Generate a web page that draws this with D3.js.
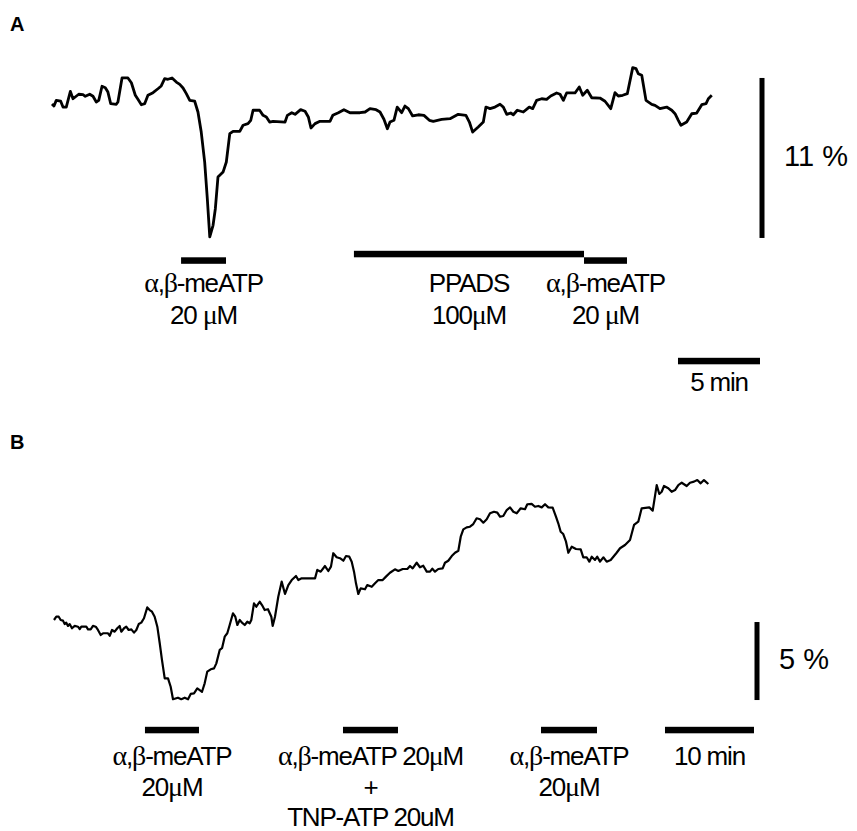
<!DOCTYPE html>
<html>
<head>
<meta charset="utf-8">
<script src="https://cdn.jsdelivr.net/npm/d3@7"></script>
<style>
  body { margin: 0; background: #fff; }
  svg text { font-family: "Liberation Sans", Arial, sans-serif; fill: #000; }
  .greek { font-family: "Liberation Serif", "Times New Roman", serif; }
</style>
</head>
<body>
<div id="chart"></div>
<script>
// Panel A: time (min) and signal change (%)
var timeA = [0,0.12,0.26,0.53,0.67,0.87,1.12,1.28,1.63,1.89,2.03,2.30,2.50,2.70,2.85,3.05,3.25,3.41,3.58,3.92,
  4.02,4.27,4.63,4.84,5.08,5.24,5.45,5.65,5.85,6.16,6.46,6.66,6.87,7.07,7.32,7.58,7.79,7.99,8.19,8.40,
  8.70,8.90,9.10,9.31,9.47,9.62,9.82,9.96,10.12,10.43,10.63,10.84,11.04,11.45,11.65,11.95,12.12,12.26,12.66,12.87,
  13.07,13.27,13.48,14.21,14.35,14.62,14.82,15.16,15.43,15.63,15.79,16.04,16.34,16.95,17.12,17.46,17.80,18.17,18.78,19.09,
  19.39,19.76,20.00,20.24,20.45,20.61,20.85,21.05,21.32,21.52,21.73,21.99,22.34,22.68,23.01,23.25,23.76,24.27,24.77,25.24,
  25.45,25.65,25.99,26.30,26.46,26.71,27.01,27.32,27.52,27.73,27.97,28.13,28.37,28.74,29.10,29.31,29.55,29.86,30.16,30.41,
  30.77,30.98,31.18,31.38,31.89,32.15,32.36,32.64,32.91,33.41,33.72,34.07,34.33,34.53,34.80,35.08,35.41,35.61,35.75,35.96,
  36.22,36.57,36.77,37.07,37.48,37.79,37.99,38.19,38.35,38.70,39.01,39.31,39.62,39.88,40.02,40.23];
var valueA = [0,-0.14,0.25,0.19,-0.21,-0.21,0.87,0.36,0.67,0.64,0.53,0.67,0.53,0.14,0.25,1.22,1.12,0.82,0.02,-0.02,
  0.14,1.79,1.79,1.46,0.60,0.32,-0.05,0.02,0.60,0.78,1.05,1.24,1.74,1.70,1.79,1.51,1.35,1.10,0.71,0.25,
  0.19,-0.55,-1.93,-3.99,-6.51,-9.14,-8.34,-7.20,-5.02,-4.68,-3.99,-2.04,-1.88,-1.88,-1.46,-1.35,-1.12,-0.43,-0.43,-0.78,
  -0.89,-1.24,-1.19,-1.24,-0.78,-0.60,-0.71,-0.39,-0.50,-0.89,-1.65,-1.35,-1.19,-1.19,-0.78,-0.60,-0.39,-0.60,-0.60,-0.55,
  -0.32,-0.39,-0.55,-1.05,-1.70,-1.24,-1.12,-0.21,-0.60,-0.14,-0.32,-0.82,-0.74,-0.78,-1.12,-1.19,-1.05,-1.01,-0.71,-0.78,
  -1.24,-1.93,-1.58,-1.24,-0.21,-0.32,-0.21,-0.02,-0.21,-0.71,-0.62,-0.74,-0.43,-0.55,-0.21,-0.32,0.25,0.36,0.32,0.55,
  0.76,0.67,0.25,0.76,0.76,1.17,0.60,0.94,0.43,0.41,0.19,-0.32,0.78,0.55,0.60,0.71,2.50,2.43,2.08,1.97,
  0.25,-0.02,-0.09,-0.32,-0.21,-0.43,-0.67,-1.12,-1.46,-1.24,-0.67,-0.62,-0.05,0.02,0.36,0.60];

// Panel B: time (min) and signal change (%)
var timeB = [0,0.26,0.53,0.75,1.01,1.20,1.38,1.57,1.76,2.02,2.33,2.70,2.89,3.07,3.63,3.82,4.12,4.38,4.69,4.94,
  5.25,5.51,6.07,6.26,6.52,6.82,7.11,7.38,7.56,7.87,8.12,8.39,8.69,8.99,9.25,9.52,9.81,10.11,10.48,10.75,
  11.01,11.31,11.61,11.88,12.13,12.44,12.81,13.11,13.37,13.93,14.30,14.69,15.06,15.36,15.73,16.10,16.37,16.63,16.93,17.22,
  17.61,17.98,18.24,18.62,18.88,19.18,19.47,19.74,20.11,20.37,20.60,20.87,21.12,21.43,21.72,21.99,22.17,22.47,22.73,23.11,
  23.37,23.67,24.04,24.42,24.57,24.83,25.20,25.58,25.96,26.33,26.71,27.19,27.45,27.83,28.20,29.33,29.58,29.97,30.45,30.82,
  31.12,31.38,31.76,32.13,32.51,32.81,33.18,33.45,33.71,33.93,34.19,34.46,34.94,35.20,35.70,36.07,36.44,36.93,37.30,37.75,
  38.31,38.69,39.18,39.70,40.00,40.30,40.75,41.12,41.49,41.88,42.25,42.51,42.81,43.18,43.67,43.93,44.30,44.69,45.06,45.43,
  45.70,45.99,46.37,46.74,47.11,47.49,47.87,48.24,48.62,48.99,49.44,49.81,50.11,50.48,50.87,51.24,51.61,51.99,52.44,52.92,
  53.18,53.67,54.04,54.42,54.80,55.17,55.54,56.03,56.40,56.66,56.93,57.22,57.53,57.79,58.17,58.65,59.18,59.47,59.85,60.15,
  60.42,60.79,61.04,61.35,61.72,62.10,62.55,62.92,63.22,63.60,64.16,64.72,65.17,65.65,66.03,66.89,67.27,67.72,68.01,68.28,
  68.54,69.02,69.40,69.78,70.15,70.53,71.09,71.46,71.91,72.28,72.66,73.03,73.52];
var valueB = [0,0.21,0.21,0,-0.04,-0.26,-0.17,-0.38,-0.26,-0.53,-0.38,-0.43,-0.58,-0.43,-0.43,-0.60,-0.60,-0.38,-0.43,-0.64,
  -0.96,-0.85,-0.85,-1.01,-0.64,-0.75,-0.53,-0.38,-0.75,-0.53,-0.43,-0.64,-0.60,-0.81,-0.64,-0.26,-0.17,0.11,0.81,0.64,
  0.53,0.21,-0.43,-1.49,-2.56,-3.74,-3.74,-4.28,-5.08,-4.98,-5.08,-4.98,-5.08,-4.74,-4.70,-4.38,-4.49,-4.60,-4.06,-3.31,
  -3.16,-3.10,-2.78,-1.92,-1.81,-1.07,-0.85,-0.32,0.43,0.21,-0.32,0,-0.17,-0.32,-0.11,-0.21,0,1.07,0.85,1.17,
  0.96,0.64,0.69,0.21,-0.38,0.21,1.49,2.46,1.67,2.24,2.56,2.82,2.56,2.67,2.67,2.67,3.21,3.10,3.46,3.14,
  3.42,4.28,4.02,3.96,3.80,4.10,4.06,3.74,3.10,2.35,1.67,2.03,1.97,2.24,2.13,2.35,2.56,2.56,2.78,3.03,
  3.25,3.14,3.27,3.27,3.46,3.31,3.67,3.38,3.48,3.10,3.10,3.29,3.10,3.27,3.31,3.67,3.80,4.10,4.31,4.44,
  5.34,5.81,5.94,5.98,6.15,6.52,6.46,6.24,6.46,6.84,6.94,6.88,6.62,6.67,7.05,7.22,6.94,6.84,7.16,7.10,
  7.42,7.44,7.26,7.31,7.22,7.42,7.22,7.20,6.62,6.20,5.66,5.51,5.02,4.31,4.70,4.55,4.53,4.02,4.02,3.74,
  4.06,3.85,4.06,3.74,4.02,3.74,3.85,4.10,4.31,4.60,4.81,5.13,6.09,6.30,7.16,7.22,7.01,8.65,8.08,8.22,
  8.59,8.44,8.22,8.33,8.65,8.80,8.59,8.80,8.87,8.97,8.76,8.97,8.72];

// Drug applications (start, end in min) and their labels
var drugsA = [
  { start: 7.87, end: 10.61, lines: ['α,β-meATP', '20 μM'] },
  { start: 18.41, end: 32.44, lines: ['PPADS', '100μM'], raised: true },
  { start: 32.44, end: 35.06, lines: ['α,β-meATP', '20 μM'] }
];
var drugsB = [
  { start: 10.22, end: 16.29, lines: ['α,β-meATP', '20μM'] },
  { start: 32.47, end: 38.65, lines: ['α,β-meATP 20μM', '+', 'TNP-ATP 20uM'] },
  { start: 54.72, end: 61.01, lines: ['α,β-meATP', '20μM'] }
];
var scaleA = { minutes: 5, percent: 11 };
var scaleB = { minutes: 10, percent: 5 };

var width = 857, height = 831;
var svg = d3.select('#chart').append('svg')
  .attr('width', width).attr('height', height);

// scales: A 16.4 px/min, 14.55 px/%; B 8.9 px/min, 15.6 px/%
var xA = d3.scaleLinear().domain([0, 40]).range([52, 708]);
var yA = d3.scaleLinear().domain([0, -11]).range([104, 264]);
var xB = d3.scaleLinear().domain([0, 10]).range([54, 143]);
var yB = d3.scaleLinear().domain([0, -5]).range([620, 698]);

// write a label, greek letters in a serif face
function addLabel(g, str, x, y, size) {
  var t = g.append('text').attr('x', x).attr('y', y)
    .attr('text-anchor', 'middle').style('font-size', size + 'px').style('letter-spacing', '-1.2px');
  var parts = str.split(/([αβμ])/);
  parts.forEach(function(p) {
    if (p === '') return;
    var s = t.append('tspan').text(p);
    if (/[αβμ]/.test(p)) s.attr('class', 'greek').style('font-size', (size + 2) + 'px');
  });
  return t;
}

function drawPanel(opts) {
  var g = svg.append('g');
  var x = opts.x, y = opts.y;
  var line = d3.line().x(function(d) { return x(d[0]); }).y(function(d) { return y(d[1]); });
  var pts = d3.zip(opts.time, opts.value);

  g.append('path').datum(pts)
    .attr('d', line)
    .attr('fill', 'none')
    .attr('stroke', '#000')
    .attr('stroke-width', opts.lw)
    .attr('stroke-linejoin', 'round');

  // drug bars
  opts.drugs.forEach(function(d) {
    var by = d.raised ? opts.barY - 6.5 : opts.barY;
    g.append('rect')
      .attr('x', x(d.start)).attr('width', x(d.end) - x(d.start))
      .attr('y', by - 3.2).attr('height', 6.5)
      .attr('fill', '#000');
    d.lines.forEach(function(l, i) {
      addLabel(g, l, (x(d.start) + x(d.end)) / 2, opts.textY + i * opts.lineH, 26);
    });
  });

  // time scale bar
  var t0 = opts.tbarStart, t1 = t0 + opts.sc.minutes;
  g.append('rect')
    .attr('x', x(t0)).attr('width', x(t1) - x(t0))
    .attr('y', opts.tbarY - 3.2).attr('height', 6.5)
    .attr('fill', '#000');
  addLabel(g, opts.sc.minutes + ' min', (x(t0) + x(t1)) / 2, opts.tbarTextY, 26);

  // amplitude scale bar
  var v0 = opts.vbarStart, v1 = v0 - opts.sc.percent;
  g.append('rect')
    .attr('x', opts.vbarX - 2.5).attr('width', 5)
    .attr('y', y(v0)).attr('height', y(v1) - y(v0))
    .attr('fill', '#000');
  g.append('text')
    .attr('x', opts.vbarX + 22).attr('y', (y(v0) + y(v1)) / 2 + 8)
    .style('font-size', '29px')
    .text(opts.sc.percent + ' %');

  g.append('text')
    .attr('x', 10).attr('y', opts.letterY)
    .style('font-size', '20px').style('font-weight', 'bold')
    .text(opts.letter);
}

drawPanel({
  letter: 'A', letterY: 31,
  x: xA, y: yA, time: timeA, value: valueA, lw: 2.8,
  drugs: drugsA, barY: 260.5, textY: 292, lineH: 32,
  sc: scaleA, tbarStart: 38.17, tbarY: 361, tbarTextY: 391,
  vbarX: 762, vbarStart: 1.79
});

drawPanel({
  letter: 'B', letterY: 449,
  x: xB, y: yB, time: timeB, value: valueB, lw: 2.2,
  drugs: drugsB, barY: 730, textY: 765, lineH: 30.5,
  sc: scaleB, tbarStart: 68.65, tbarY: 730, tbarTextY: 765,
  vbarX: 757, vbarStart: -0.13
});
</script>
</body>
</html>
